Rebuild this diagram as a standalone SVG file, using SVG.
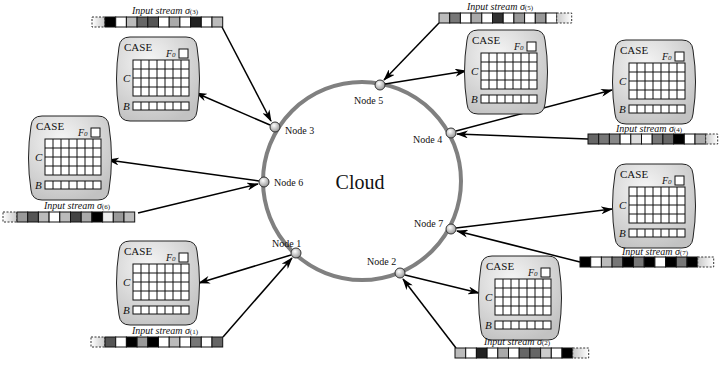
<svg xmlns="http://www.w3.org/2000/svg" xmlns:xlink="http://www.w3.org/1999/xlink" width="722" height="367" viewBox="0 0 722 367">
<style>
.t{font-family:"Liberation Serif",serif;fill:#111}
.lbl{font-family:"Liberation Serif",serif;font-size:10px;fill:#111}
.sl{font-family:"Liberation Serif",serif;font-size:10px;font-style:italic;fill:#111;text-anchor:middle}
.sub{font-size:7px;font-style:normal}
.cell{stroke:#111;stroke-width:1}
.dash{stroke:#333;stroke-width:1;stroke-dasharray:2,1.5}
.con{stroke:#000;stroke-width:1.5;fill:none}
.node{fill:url(#ng);stroke:#333;stroke-width:1}
</style>
<defs>
<radialGradient id="ng" cx="40%" cy="35%" r="65%"><stop offset="0" stop-color="#fff"/><stop offset="1" stop-color="#999"/></radialGradient>
<radialGradient id="bg" cx="40%" cy="30%" r="75%"><stop offset="0" stop-color="#f6f6f6"/><stop offset="1" stop-color="#c2c2c2"/></radialGradient>
<linearGradient id="fl" x1="0" x2="1" y1="0" y2="0"><stop offset="0" stop-color="#fff"/><stop offset="1" stop-color="#c8c8c8"/></linearGradient>
<linearGradient id="fr" x1="0" x2="1" y1="0" y2="0"><stop offset="0" stop-color="#c8c8c8"/><stop offset="1" stop-color="#fff"/></linearGradient>
<marker id="ah" viewBox="0 0 12 8" refX="11" refY="4" markerWidth="12" markerHeight="8" markerUnits="userSpaceOnUse" orient="auto">
<path d="M0,0 L12,4 L0,8 L3.5,4 Z" fill="#000"/>
</marker>
<g id="case">
<path d="M12,0 H68 Q78,0 79,10 Q84,42 79,74 Q78,84 68,84 H12 Q2,84 1,74 Q-4,42 1,10 Q2,0 12,0 Z" fill="url(#bg)" stroke="#222" stroke-width="1"/>
<text class="t" x="6" y="14" font-size="11">CASE</text>
<text class="t" x="48" y="20" font-size="10" font-style="italic">F<tspan font-size="7">0</tspan></text>
<rect x="61" y="12" width="9" height="9" fill="#fff" stroke="#111"/>
<text class="t" x="5" y="45" font-size="11" font-style="italic">C</text>
<rect x="15" y="23" width="56" height="36" fill="#fff" stroke="#111"/>
<path d="M23,23V59M31,23V59M39,23V59M47,23V59M55,23V59M63,23V59M15,32H71M15,41H71M15,50H71" stroke="#111" stroke-width="1" fill="none"/>
<text class="t" x="5" y="73" font-size="11" font-style="italic">B</text>
<rect x="15" y="65" width="56" height="8" fill="#fff" stroke="#111"/>
<path d="M23,65V73M31,65V73M39,65V73M47,65V73M55,65V73M63,65V73" stroke="#111" stroke-width="1" fill="none"/>
</g>
</defs>
<rect width="722" height="367" fill="#fff"/>

<g id="cloud">
<circle cx="362" cy="181" r="99" fill="none" stroke="#808080" stroke-width="4"/>
<text class="t" x="360" y="189" font-size="20" text-anchor="middle">Cloud</text>
</g>

<g id="connectors">
<line class="con" x1="222" y1="27" x2="271" y2="121" marker-end="url(#ah)"/>
<line class="con" x1="270" y1="125" x2="196" y2="93" marker-end="url(#ah)"/>
<line class="con" x1="259" y1="181" x2="108" y2="160" marker-end="url(#ah)"/>
<line class="con" x1="138" y1="213" x2="258" y2="184" marker-end="url(#ah)"/>
<line class="con" x1="291" y1="255" x2="199" y2="283" marker-end="url(#ah)"/>
<line class="con" x1="223" y1="337" x2="292" y2="258" marker-end="url(#ah)"/>
<line class="con" x1="439" y1="23" x2="384" y2="80" marker-end="url(#ah)"/>
<line class="con" x1="385" y1="84" x2="466" y2="71" marker-end="url(#ah)"/>
<line class="con" x1="456" y1="131" x2="612" y2="90" marker-end="url(#ah)"/>
<line class="con" x1="588" y1="139" x2="457" y2="134" marker-end="url(#ah)"/>
<line class="con" x1="456" y1="228" x2="612" y2="209" marker-end="url(#ah)"/>
<line class="con" x1="580" y1="262" x2="457" y2="231" marker-end="url(#ah)"/>
<line class="con" x1="405" y1="275" x2="479" y2="293" marker-end="url(#ah)"/>
<line class="con" x1="456" y1="348" x2="403" y2="279" marker-end="url(#ah)"/>
</g>

<g id="node3"><circle class="node" cx="275" cy="127" r="5"/><text class="lbl" x="285" y="134">Node 3</text></g>
<g id="node6"><circle class="node" cx="264" cy="182" r="5"/><text class="lbl" x="274" y="186">Node 6</text></g>
<g id="node1"><circle class="node" cx="296" cy="253" r="5"/><text class="lbl" x="272" y="247">Node 1</text></g>
<g id="node5"><circle class="node" cx="380" cy="85" r="5"/><text class="lbl" x="354" y="104">Node 5</text></g>
<g id="node4"><circle class="node" cx="451" cy="133" r="5"/><text class="lbl" x="413" y="143">Node 4</text></g>
<g id="node7"><circle class="node" cx="451" cy="229" r="5"/><text class="lbl" x="414" y="227">Node 7</text></g>
<g id="node2"><circle class="node" cx="400" cy="273" r="5"/><text class="lbl" x="367" y="265">Node 2</text></g>

<g id="case3"><use xlink:href="#case" x="118" y="37"/></g>
<g id="case6"><use xlink:href="#case" x="30" y="116"/></g>
<g id="case1"><use xlink:href="#case" x="118" y="241"/></g>
<g id="case5"><use xlink:href="#case" x="466" y="30"/></g>
<g id="case4"><use xlink:href="#case" x="614" y="40"/></g>
<g id="case7"><use xlink:href="#case" x="614" y="164"/></g>
<g id="case2"><use xlink:href="#case" x="480" y="256"/></g>

<g id="stream3">
<text class="sl" x="165" y="14">Input stream σ<tspan class="sub">(3)</tspan></text>
<rect class="dash" x="92" y="17" width="13" height="10" fill="url(#fl)"/>
<g class="cell">
<rect x="105" y="17" width="10.7" height="10" fill="#000"/><rect x="115.7" y="17" width="10.7" height="10" fill="#fff"/><rect x="126.4" y="17" width="10.7" height="10" fill="#bbb"/><rect x="137.1" y="17" width="10.7" height="10" fill="#666"/><rect x="147.8" y="17" width="10.7" height="10" fill="#555"/><rect x="158.5" y="17" width="10.7" height="10" fill="#fff"/><rect x="169.2" y="17" width="10.7" height="10" fill="#aaa"/><rect x="179.9" y="17" width="10.7" height="10" fill="#fff"/><rect x="190.6" y="17" width="10.7" height="10" fill="#222"/><rect x="201.3" y="17" width="10.7" height="10" fill="#fff"/><rect x="212" y="17" width="10.7" height="10" fill="#bbb"/>
</g>
</g>

<g id="stream6">
<text class="sl" x="77" y="209">Input stream σ<tspan class="sub">(6)</tspan></text>
<rect class="dash" x="3" y="212" width="14" height="10" fill="url(#fl)"/>
<g class="cell">
<rect x="17" y="212" width="10.7" height="10" fill="#999"/><rect x="27.7" y="212" width="10.7" height="10" fill="#555"/><rect x="38.4" y="212" width="10.7" height="10" fill="#bbb"/><rect x="49.1" y="212" width="10.7" height="10" fill="#fff"/><rect x="59.8" y="212" width="10.7" height="10" fill="#bbb"/><rect x="70.5" y="212" width="10.7" height="10" fill="#444"/><rect x="81.2" y="212" width="10.7" height="10" fill="#aaa"/><rect x="91.9" y="212" width="10.7" height="10" fill="#000"/><rect x="102.6" y="212" width="10.7" height="10" fill="#eee"/><rect x="113.3" y="212" width="10.7" height="10" fill="#999"/><rect x="124" y="212" width="10.7" height="10" fill="#bbb"/>
</g>
</g>

<g id="stream1">
<text class="sl" x="165" y="334">Input stream σ<tspan class="sub">(1)</tspan></text>
<rect class="dash" x="91" y="337" width="14" height="10" fill="url(#fl)"/>
<g class="cell">
<rect x="105" y="337" width="10.7" height="10" fill="#555"/><rect x="115.7" y="337" width="10.7" height="10" fill="#fff"/><rect x="126.4" y="337" width="10.7" height="10" fill="#000"/><rect x="137.1" y="337" width="10.7" height="10" fill="#999"/><rect x="147.8" y="337" width="10.7" height="10" fill="#000"/><rect x="158.5" y="337" width="10.7" height="10" fill="#fff"/><rect x="169.2" y="337" width="10.7" height="10" fill="#bbb"/><rect x="179.9" y="337" width="10.7" height="10" fill="#fff"/><rect x="190.6" y="337" width="10.7" height="10" fill="#777"/><rect x="201.3" y="337" width="10.7" height="10" fill="#fff"/><rect x="212" y="337" width="10.7" height="10" fill="#666"/>
</g>
</g>

<g id="stream5">
<text class="sl" x="500" y="10">Input stream σ<tspan class="sub">(5)</tspan></text>
<g class="cell">
<rect x="439" y="13" width="10.7" height="10" fill="#bbb"/><rect x="449.7" y="13" width="10.7" height="10" fill="#777"/><rect x="460.4" y="13" width="10.7" height="10" fill="#fff"/><rect x="471.1" y="13" width="10.7" height="10" fill="#aaa"/><rect x="481.8" y="13" width="10.7" height="10" fill="#fff"/><rect x="492.5" y="13" width="10.7" height="10" fill="#333"/><rect x="503.2" y="13" width="10.7" height="10" fill="#fff"/><rect x="513.9" y="13" width="10.7" height="10" fill="#999"/><rect x="524.6" y="13" width="10.7" height="10" fill="#fff"/><rect x="535.3" y="13" width="10.7" height="10" fill="#999"/><rect x="546" y="13" width="10.7" height="10" fill="#fff"/>
</g>
<rect class="dash" x="556.7" y="13" width="15" height="10" fill="url(#fr)"/>
</g>

<g id="stream4">
<text class="sl" x="649" y="132">Input stream σ<tspan class="sub">(4)</tspan></text>
<g class="cell">
<rect x="588" y="134" width="10.7" height="10" fill="#666"/><rect x="598.7" y="134" width="10.7" height="10" fill="#777"/><rect x="609.4" y="134" width="10.7" height="10" fill="#888"/><rect x="620.1" y="134" width="10.7" height="10" fill="#fff"/><rect x="630.8" y="134" width="10.7" height="10" fill="#ddd"/><rect x="641.5" y="134" width="10.7" height="10" fill="#fff"/><rect x="652.2" y="134" width="10.7" height="10" fill="#777"/><rect x="662.9" y="134" width="10.7" height="10" fill="#666"/><rect x="673.6" y="134" width="10.7" height="10" fill="#000"/><rect x="684.3" y="134" width="10.7" height="10" fill="#fff"/><rect x="695" y="134" width="10.7" height="10" fill="#aaa"/>
</g>
<rect class="dash" x="705.7" y="134" width="12" height="10" fill="url(#fr)"/>
</g>

<g id="stream7">
<text class="sl" x="655" y="255">Input stream σ<tspan class="sub">(7)</tspan></text>
<g class="cell">
<rect x="580" y="257" width="10.7" height="10" fill="#000"/><rect x="590.7" y="257" width="10.7" height="10" fill="#fff"/><rect x="601.4" y="257" width="10.7" height="10" fill="#bbb"/><rect x="612.1" y="257" width="10.7" height="10" fill="#777"/><rect x="622.8" y="257" width="10.7" height="10" fill="#000"/><rect x="633.5" y="257" width="10.7" height="10" fill="#777"/><rect x="644.2" y="257" width="10.7" height="10" fill="#000"/><rect x="654.9" y="257" width="10.7" height="10" fill="#fff"/><rect x="665.6" y="257" width="10.7" height="10" fill="#000"/><rect x="676.3" y="257" width="10.7" height="10" fill="#777"/><rect x="687" y="257" width="10.7" height="10" fill="#000"/>
</g>
<rect class="dash" x="697.7" y="257" width="16" height="10" fill="url(#fr)"/>
</g>

<g id="stream2">
<text class="sl" x="517" y="345">Input stream σ<tspan class="sub">(2)</tspan></text>
<g class="cell">
<rect x="455" y="348" width="10.7" height="10" fill="#bbb"/><rect x="465.7" y="348" width="10.7" height="10" fill="#fff"/><rect x="476.4" y="348" width="10.7" height="10" fill="#222"/><rect x="487.1" y="348" width="10.7" height="10" fill="#fff"/><rect x="497.8" y="348" width="10.7" height="10" fill="#aaa"/><rect x="508.5" y="348" width="10.7" height="10" fill="#fff"/><rect x="519.2" y="348" width="10.7" height="10" fill="#666"/><rect x="529.9" y="348" width="10.7" height="10" fill="#666"/><rect x="540.6" y="348" width="10.7" height="10" fill="#ccc"/><rect x="551.3" y="348" width="10.7" height="10" fill="#fff"/><rect x="562" y="348" width="10.7" height="10" fill="#000"/>
</g>
<rect class="dash" x="572.7" y="348" width="16" height="10" fill="url(#fr)"/>
</g>
</svg>
